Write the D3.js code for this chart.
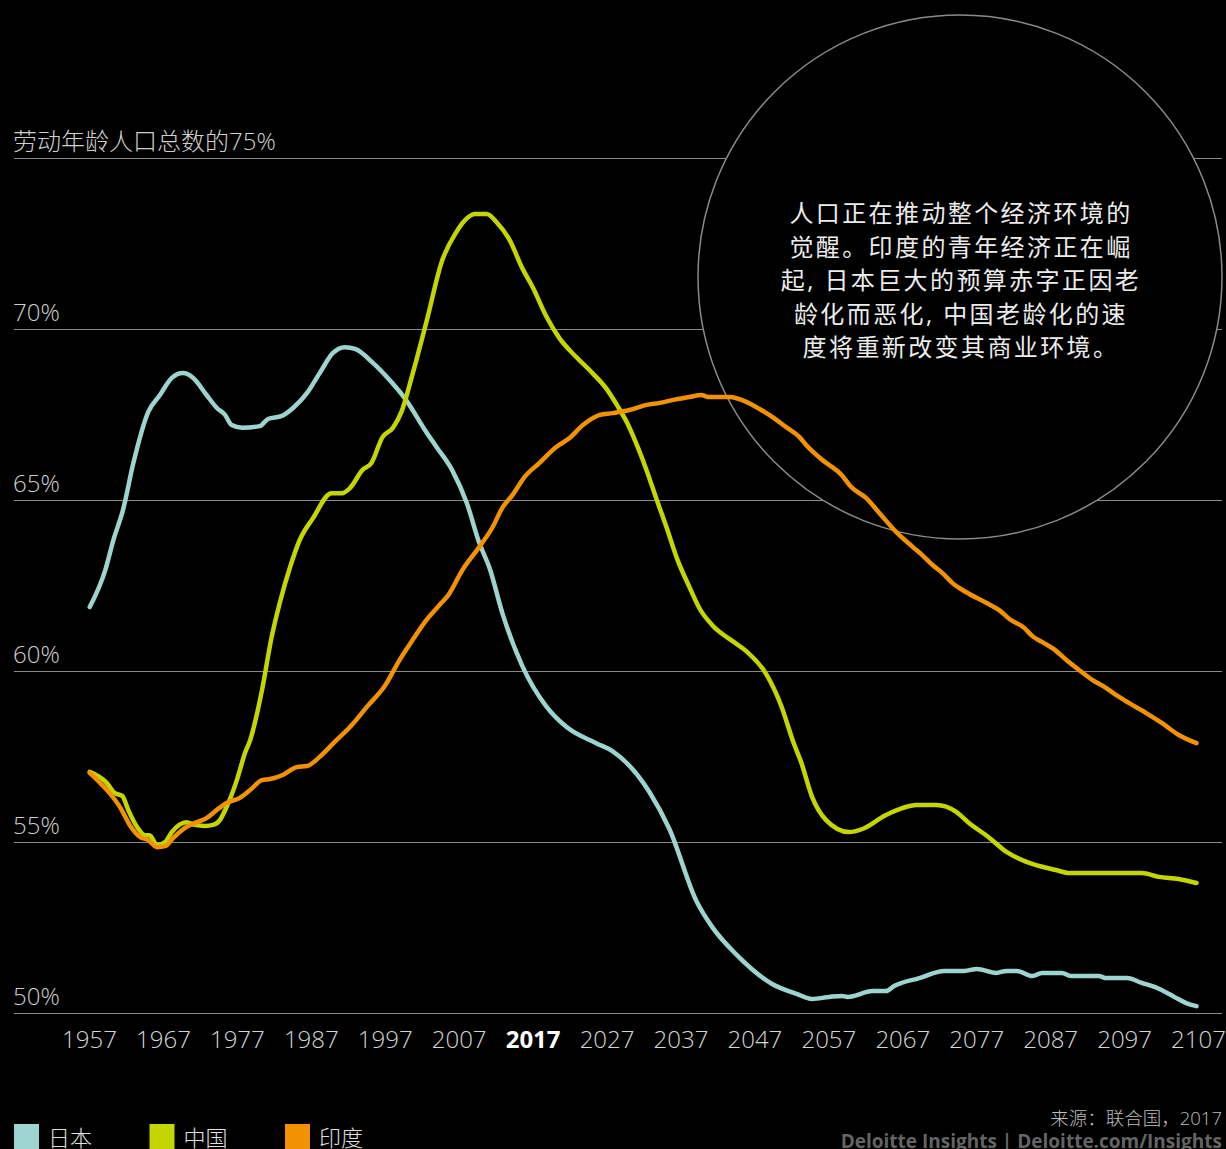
<!DOCTYPE html>
<html>
<head>
<meta charset="utf-8">
<script src="https://cdn.jsdelivr.net/npm/d3@7"></script>
<style>
  body { margin: 0; background: #000; }
  svg { display: block; }
  text { font-family: "Open Sans", "Noto Sans CJK SC", sans-serif; }
</style>
</head>
<body>
<svg id="chart"></svg>
<script>
// data: year, share of working-age population (%)
var japanYears = [1957.1,1959.2,1960.3,1961.6,1963.0,1965.0,1966.6,1968.2,1969.7,1971.1,1972.9,1974.3,1975.4,1976.3,1977.7,1980.1,1981.2,1983.1,1984.6,1986.5,1988.2,1990.0,1991.6,1993.0,1995.4,1997.9,1999.7,2002.7,2004.0,2006.1,2008.1,2009.8,2011.2,2012.9,2015.6,2018.9,2021.6,2025.6,2027.8,2032.8,2035.5,2039.2,2041.3,2044.6,2049.4,2052.7,2054.8,2057.1,2058.8,2059.6,2063.0,2064.8,2065.9,2069.3,2072.7,2075.4,2077.1,2079.7,2081.1,2082.5,2084.6,2085.9,2088.6,2089.8,2093.6,2094.6,2097.4,2099.4,2101.5,2103.8,2105.4,2106.8]
var japanShare = [61.87,62.95,63.83,64.71,66.08,67.57,68.07,68.57,68.71,68.57,68.07,67.69,67.49,67.19,67.11,67.16,67.37,67.46,67.69,68.13,68.71,69.30,69.47,69.42,69.01,68.45,67.98,66.96,66.55,65.88,64.91,63.74,63.0,61.7,60.15,58.95,58.36,57.89,57.66,56.46,55.38,53.25,52.51,51.70,50.85,50.56,50.41,50.47,50.50,50.47,50.64,50.64,50.79,51.02,51.23,51.23,51.29,51.17,51.23,51.23,51.08,51.17,51.17,51.08,51.08,51.02,51.02,50.88,50.73,50.47,50.29,50.20]

var chinaYears = [1957.1,1959.4,1960.5,1961.5,1962.3,1963.6,1964.6,1965.2,1966.2,1967.3,1968.2,1970.2,1971.3,1972.7,1973.8,1974.7,1975.6,1977.0,1978.1,1978.8,1980.4,1981.7,1982.8,1984.2,1985.5,1987.3,1989.8,1991.2,1992.3,1994.0,1995.2,1996.7,1998.1,1999.3,2000.8,2002.7,2004.7,2006.7,2008.2,2009.2,2010.8,2012.1,2013.9,2015.6,2017.0,2018.9,2020.6,2022.9,2025.1,2027.1,2028.4,2029.8,2031.1,2032.4,2033.8,2035.1,2036.6,2038.2,2039.6,2041.3,2044.0,2045.9,2048.6,2050.6,2052.3,2053.3,2054.8,2056.7,2059.8,2061.6,2064.8,2067.0,2068.9,2071.6,2074.3,2075.9,2078.8,2081.1,2083.8,2087.8,2089.6,2099.4,2101.7,2104.4,2106.8]
var chinaShare = [57.05,56.73,56.43,56.35,55.94,55.41,55.20,55.20,54.91,55.0,55.29,55.58,55.50,55.47,55.50,55.64,56.02,56.81,57.60,57.98,59.44,60.99,61.99,63.04,63.83,64.47,65.20,65.20,65.35,65.88,66.08,66.84,67.11,67.60,68.71,70.26,71.96,72.84,73.25,73.36,73.36,73.13,72.60,71.78,71.23,70.35,69.74,69.18,68.71,68.22,67.78,67.25,66.61,65.88,65.0,64.21,63.25,62.46,61.82,61.34,60.88,60.58,59.91,59.0,57.9,57.35,56.32,55.64,55.29,55.38,55.79,55.99,56.08,56.08,55.88,55.58,55.12,54.71,54.42,54.18,54.09,54.09,53.98,53.92,53.80]

var indiaYears = [1957.1,1958.5,1959.8,1961.2,1962.5,1963.9,1965.0,1966.2,1967.3,1968.4,1970.2,1971.6,1972.9,1974.3,1975.6,1977.4,1978.8,1980.4,1981.5,1983.2,1985.1,1986.5,1988.2,1990.2,1992.3,1994.7,1997.0,1999.0,2000.6,2002.5,2004.5,2005.6,2007.5,2009.8,2011.6,2012.9,2014.3,2015.9,2017.9,2020.2,2022.0,2023.8,2026.1,2027.8,2030.1,2032.4,2034.2,2035.9,2038.2,2039.8,2040.9,2043.6,2045.9,2047.7,2049.4,2051.3,2053.1,2054.0,2056.2,2058.8,2060.1,2062.1,2063.9,2066.2,2068.4,2069.7,2071.1,2072.4,2073.8,2075.6,2078.4,2080.1,2081.5,2083.5,2084.6,2085.9,2087.5,2089.2,2090.9,2092.7,2094.6,2095.9,2097.7,2100.0,2102.1,2104.4,2106.8]
var indiaShare = [57.02,56.73,56.43,56.02,55.50,55.15,55.06,54.85,54.88,55.12,55.44,55.58,55.70,55.94,56.14,56.29,56.52,56.81,56.84,56.96,57.19,57.22,57.49,57.92,58.36,58.98,59.56,60.32,60.85,61.45,61.95,62.22,62.95,63.63,64.21,64.77,65.15,65.67,66.08,66.55,66.81,67.19,67.49,67.54,67.63,67.78,67.84,67.92,68.01,68.07,68.01,68.01,67.87,67.66,67.43,67.13,66.84,66.61,66.17,65.73,65.38,65.06,64.62,64.06,63.63,63.39,63.10,62.87,62.57,62.31,61.99,61.78,61.52,61.26,61.02,60.85,60.64,60.32,60.03,59.74,59.50,59.30,59.06,58.77,58.48,58.13,57.89]

var countries = ["日本", "中国", "印度"]
var colors = ["#9dd4cf", "#c4d600", "#f39200"]
var xTicks = [1957,1967,1977,1987,1997,2007,2017,2027,2037,2047,2057,2067,2077,2087,2097,2107]
var yTicks = [50,55,60,65,70,75]
var yTickLabels = ["50%","55%","60%","65%","70%","劳动年龄人口总数的75%"]
var noteLines = ["人口正在推动整个经济环境的","觉醒。印度的青年经济正在崛","起, 日本巨大的预算赤字正因老","龄化而恶化, 中国老龄化的速","度将重新改变其商业环境。"]

//build series from the arrays
var series = [
  japanYears.map(function(d,i){ return {year:d, value:japanShare[i]} }),
  chinaYears.map(function(d,i){ return {year:d, value:chinaShare[i]} }),
  indiaYears.map(function(d,i){ return {year:d, value:indiaShare[i]} })
]

var svg = d3.select('#chart')
  .attr('width',1226)
  .attr('height',1149)

svg.append('rect')
  .attr('width',1226)
  .attr('height',1149)
  .attr('fill','#000')

//scales
var x = d3.scaleLinear().domain([1957,2107]).range([89,1198])
var y = d3.scaleLinear().domain([50,75]).range([1013,158])

//gridlines + y labels
var grid = svg.append('g')
grid.selectAll('line')
  .data(yTicks)
  .enter()
  .append('line')
  .attr('x1',14)
  .attr('x2',1222)
  .attr('y1',function(d){ return y(d) + 0.5 })
  .attr('y2',function(d){ return y(d) + 0.5 })
  .attr('stroke','#8a8a8a')
  .attr('stroke-width',1)

grid.selectAll('text')
  .data(yTicks)
  .enter()
  .append('text')
  .attr('x',13)
  .attr('y',function(d){ return y(d) - 8 })
  .attr('fill','#cfcfcf')
  .attr('font-size','24px')
  .attr('font-weight',300)
  .text(function(d,i){ return yTickLabels[i] })

//x axis
var xaxis = svg.append('g')
  .attr('transform','translate(0,1027)')
  .call(d3.axisBottom(x).tickValues(xTicks).tickSize(0).tickFormat(d3.format('d')))
xaxis.select('.domain').remove()
xaxis.selectAll('text')
  .attr('font-family','"Open Sans", sans-serif')
  .attr('font-size','24px')
  .attr('font-weight',function(d){ return d === 2017 ? 700 : 300 })
  .attr('fill',function(d){ return d === 2017 ? '#fff' : '#d6d6d6' })
  .attr('dy','0.76em')

//circle note
var note = svg.append('g')
note.append('circle')
  .attr('cx',960)
  .attr('cy',277)
  .attr('r',262)
  .attr('fill','#000')
  .attr('stroke','#8a8a8a')
  .attr('stroke-width',1.5)

note.selectAll('text')
  .data(noteLines)
  .enter()
  .append('text')
  .attr('x',961)
  .attr('y',function(d,i){ return 222 + i*33.5 })
  .attr('text-anchor','middle')
  .attr('font-family','"Noto Sans CJK SC", sans-serif')
  .attr('font-size','24px')
  .attr('letter-spacing','2.4px')
  .attr('fill','#ececec')
  .text(function(d){ return d })

//lines
var line = d3.line()
  .x(function(d){ return x(d.year) })
  .y(function(d){ return y(d.value) })
  .curve(d3.curveMonotoneX)

svg.append('g')
  .selectAll('path')
  .data(series)
  .enter()
  .append('path')
  .attr('d',line)
  .attr('fill','none')
  .attr('stroke',function(d,i){ return colors[i] })
  .attr('stroke-width',4.5)
  .attr('stroke-linejoin','round')
  .attr('stroke-linecap','round')

//legend
var legend = svg.append('g')
  .selectAll('g')
  .data(countries)
  .enter()
  .append('g')
  .attr('transform',function(d,i){ return 'translate(' + (14 + i*135.5) + ',1124)' })

legend.append('rect')
  .attr('width',25)
  .attr('height',25)
  .attr('fill',function(d,i){ return colors[i] })

legend.append('text')
  .attr('x',34)
  .attr('y',22)
  .attr('font-family','"Noto Sans CJK SC", sans-serif')
  .attr('font-size','22px')
  .attr('font-weight',300)
  .attr('fill','#e0e0e0')
  .text(function(d){ return d })

//source + credit
svg.append('text')
  .attr('x',1222)
  .attr('y',1125)
  .attr('text-anchor','end')
  .attr('font-size','18.5px')
  .attr('font-weight',300)
  .attr('fill','#bdbdbd')
  .text('来源：联合国，2017')

svg.append('text')
  .attr('x',1222)
  .attr('y',1148)
  .attr('text-anchor','end')
  .attr('font-size','19px')
  .attr('font-weight',700)
  .attr('fill','#646464')
  .text('Deloitte Insights | Deloitte.com/Insights')
</script>
</body>
</html>
